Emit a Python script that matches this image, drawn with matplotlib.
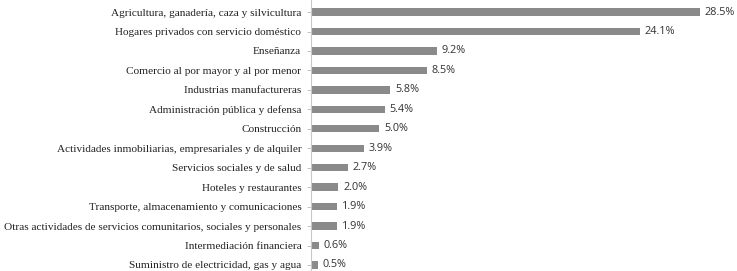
import matplotlib
matplotlib.use('Agg')
import matplotlib.pyplot as plt

sectors = ['Agricultura, ganadería, caza y silvicultura',
           'Hogares privados con servicio doméstico',
           'Enseñanza',
           'Comercio al por mayor y al por menor',
           'Industrias manufactureras',
           'Administración pública y defensa',
           'Construcción',
           'Actividades inmobiliarias, empresariales y de alquiler',
           'Servicios sociales y de salud',
           'Hoteles y restaurantes',
           'Transporte, almacenamiento y comunicaciones',
           'Otras actividades de servicios comunitarios, sociales y personales',
           'Intermediación financiera',
           'Suministro de electricidad, gas y agua']
shares = [28.5, 24.1, 9.2, 8.5, 5.8, 5.4, 5.0, 3.9, 2.7, 2.0, 1.9, 1.9, 0.6, 0.5]

fig = plt.figure(figsize=(7.37, 2.71), dpi=100)
ax = fig.add_axes([311 / 737, 0, 1 - 311 / 737, 1])

pos = list(range(len(sectors)))
ax.barh(pos, shares, height=0.38, color='#8a8a8a')
for p, v in zip(pos, shares):
    ax.text(v + 0.35, p, '{:.1f}%'.format(v), va='center', ha='left',
            fontsize=7.8, family='Open Sans', color='#333333')

ax.set_yticks(pos)
ax.set_yticklabels(sectors, family='Liberation Serif', fontsize=8.15, color='#222222')
ax.tick_params(axis='y', length=3, width=0.6, color='#bbbbbb', pad=4)
ax.set_xticks([])
ax.set_xlim(0, 426 / 13.65)
ax.set_ylim(13.31, -0.62)
for s in ['top', 'right', 'bottom']:
    ax.spines[s].set_visible(False)
ax.spines['left'].set_color('#c8c8c8')
ax.spines['left'].set_linewidth(0.8)

fig.savefig('out.png', dpi=100)
